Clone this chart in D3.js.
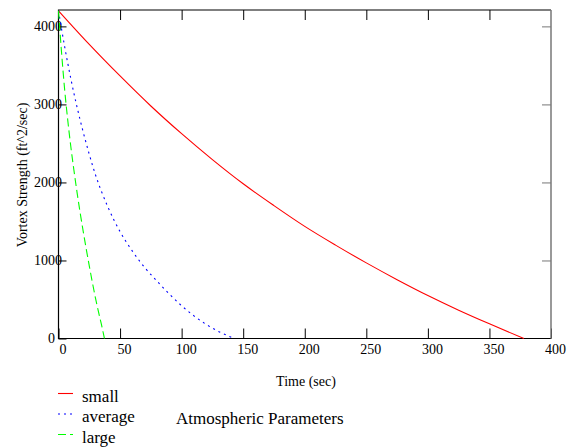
<!DOCTYPE html>
<html>
<head>
<meta charset="utf-8">
<script src="https://cdn.jsdelivr.net/npm/d3@7"></script>
<style>
  body { margin: 0; background: #fff; }
  svg { display: block; font-family: "Liberation Serif", "Times New Roman", serif; }
</style>
</head>
<body>
<svg width="571" height="447"></svg>
<script>
// values (time in sec, vortex strength in ft^2/sec)
const smallT = [0, 25, 50, 75, 100, 125, 150, 175, 200, 225, 250, 275, 300, 325, 350, 378];
const smallV = [4200, 3770, 3365, 2980, 2625, 2293, 1983, 1703, 1437, 1197, 969, 754, 551, 363, 188, 0];

const averageT = [0, 5, 10, 15, 20, 25, 30, 35, 40, 45, 50, 60, 70, 80, 90, 100, 110, 120, 130, 143];
const averageV = [4200, 3740, 3330, 2970, 2650, 2360, 2100, 1880, 1690, 1520, 1370, 1120, 910, 735, 570, 420, 290, 180, 90, 0];

const largeT = [0, 2.5, 5, 7.5, 10, 12.5, 15, 17.5, 20, 22.5, 25, 27.5, 30, 32.5, 35, 37.3];
const largeV = [4200, 3660, 3190, 2800, 2460, 2160, 1880, 1620, 1380, 1150, 930, 720, 520, 340, 170, 0];

const xTicks = [0, 50, 100, 150, 200, 250, 300, 350, 400];
const yTicks = [0, 1000, 2000, 3000, 4000];

const seriesNames = ["small", "average", "large"];
const colors = ["#ff0000", "#0000ff", "#00ff00"];
const dashes = [null, "2,4", "8,4"];

const serif = "'Liberation Serif', 'Times New Roman', serif";
const svg = d3.select("svg");
const plot = {left: 58.5, right: 551, top: 10, bottom: 338.5};

const x = d3.scaleLinear().domain([0, 400]).range([plot.left, plot.right]);
const y = d3.scaleLinear().domain([0, 4210]).range([plot.bottom, plot.top]);

// x axis (ticks point inward), with top ticks too
const gx = svg.append("g")
  .attr("transform", "translate(0," + plot.bottom + ")")
  .call(d3.axisBottom(x).tickValues(xTicks).tickSizeInner(-10).tickSizeOuter(0)
    .tickPadding(6).tickFormat(d3.format("d")));
gx.select(".domain").remove();
gx.selectAll("text").attr("dx", 4)
  .style("font-family", serif).style("font-size", "14px").attr("fill", "#000");
gx.selectAll("line").attr("stroke", "#000");

svg.append("g")
  .attr("transform", "translate(0," + plot.top + ")")
  .call(d3.axisTop(x).tickValues(xTicks.slice(1, -1)).tickSizeInner(-10).tickSizeOuter(0).tickFormat(""))
  .select(".domain").remove();

// y axis
const gy = svg.append("g")
  .attr("transform", "translate(" + plot.left + ",0)")
  .call(d3.axisLeft(y).tickValues(yTicks).tickSizeInner(-8).tickSizeOuter(0)
    .tickFormat(d3.format("d")));
gy.select(".domain").remove();
gy.selectAll("text")
  .attr("x", d => d === 0 ? -3.5 : 3.5)
  .style("font-family", serif).style("font-size", "14px").attr("fill", "#000");

const gy2 = svg.append("g")
  .attr("transform", "translate(" + plot.right + ",0)")
  .call(d3.axisRight(y).tickValues(yTicks.slice(1)).tickSizeInner(-9).tickSizeOuter(0).tickFormat(""));
gy2.select(".domain").remove();
gy2.selectAll("line").attr("stroke", "#777");

// frame
svg.append("path")
  .attr("d", "M" + plot.right + "," + plot.top + "H" + plot.left + "V" + plot.bottom + "H" + plot.right)
  .attr("fill", "none").attr("stroke", "#000").attr("stroke-width", 1.2);
svg.append("line")
  .attr("x1", plot.right).attr("x2", plot.right).attr("y1", plot.top).attr("y2", plot.bottom)
  .attr("stroke", "#777").attr("stroke-width", 1.5);

// curves
const series = [
  d3.zip(smallT, smallV),
  d3.zip(averageT, averageV),
  d3.zip(largeT, largeV)
];
const line = d3.line().x(d => x(d[0])).y(d => y(d[1])).curve(d3.curveMonotoneX);

svg.append("g").selectAll("path")
  .data(series)
  .enter().append("path")
  .attr("d", line)
  .attr("fill", "none")
  .attr("stroke", (d, i) => colors[i])
  .attr("stroke-width", 1.1)
  .attr("stroke-dasharray", (d, i) => dashes[i]);

// axis titles
svg.append("text")
  .attr("x", 306).attr("y", 386)
  .attr("text-anchor", "middle")
  .style("font-size", "14px")
  .text("Time (sec)");

svg.append("text")
  .attr("transform", "translate(27,175) rotate(-90)")
  .attr("text-anchor", "middle")
  .style("font-size", "14px")
  .text("Vortex Strength (ft^2/sec)");

// legend
const legend = svg.selectAll(".legend")
  .data(seriesNames)
  .enter().append("g")
  .attr("class", "legend")
  .attr("transform", (d, i) => "translate(0," + (393.5 + i * 20.5) + ")");

legend.append("line")
  .attr("x1", 58).attr("x2", 73)
  .attr("stroke", (d, i) => colors[i])
  .attr("stroke-width", 1.1)
  .attr("stroke-dasharray", (d, i) => dashes[i]);

legend.append("text")
  .attr("x", 82).attr("y", 8)
  .style("font-size", "17px")
  .text(d => d);

svg.append("text")
  .attr("x", 176).attr("y", 424)
  .style("font-size", "17px")
  .text("Atmospheric Parameters");
</script>
</body>
</html>
